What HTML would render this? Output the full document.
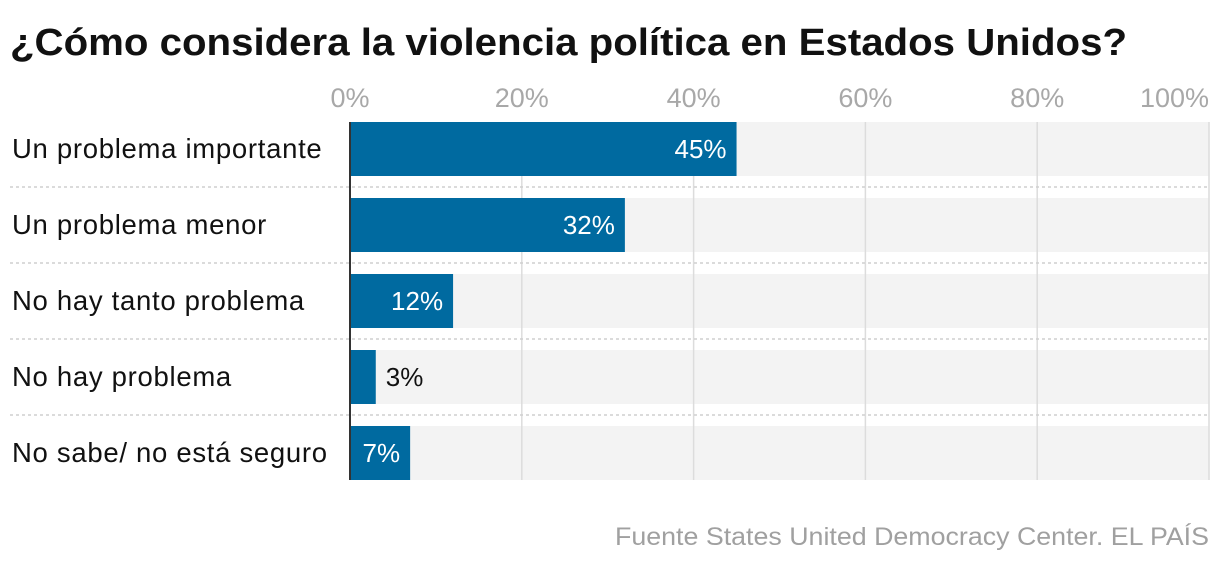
<!DOCTYPE html>
<html><head><meta charset="utf-8"><style>
body{margin:0;background:#fff;width:1220px;height:564px;overflow:hidden;font-family:"Liberation Sans",sans-serif}
</style></head><body>
<svg width="1220" height="564">
<text x="10" y="55" font-size="38" font-weight="bold" fill="#111" textLength="1117" lengthAdjust="spacingAndGlyphs">¿Cómo considera la violencia política en Estados Unidos?</text>
<g id="plot"></g>
<text x="615" y="545" font-size="25" fill="#a0a0a0" textLength="594" lengthAdjust="spacingAndGlyphs">Fuente States United Democracy Center. EL PAÍS</text>
</svg>
<script>
const categories=["Un problema importante","Un problema menor","No hay tanto problema","No hay problema","No sabe/ no está seguro"];
const values=[45,32,12,3,7];
const ticks=[0,20,40,60,80,100];
const tickLabels=["0%","20%","40%","60%","80%","100%"];
const x0=350,x1=1209,top0=122,pitch=76,bh=54;
const xs=v=>x0+(x1-x0)*v/100;
const g=document.getElementById('plot');
const NS="http://www.w3.org/2000/svg";
function mk(t,a){const e=document.createElementNS(NS,t);for(const k in a)e.setAttribute(k,a[k]);g.appendChild(e);return e;}
categories.forEach((c,i)=>{
  const y=top0+i*pitch;
  const bg=mk('rect',{x:x0,y:y,width:x1-x0,height:bh,fill:'#f3f3f3'});
  
  
});
ticks.forEach((t,i)=>{
  if(i>0){const l=mk('line',{x1:xs(t),x2:xs(t),y1:top0,y2:top0+4*pitch+bh,stroke:'#dcdcdc','stroke-width':1.5});
  
  }
  const tx=mk('text',{x:xs(t),y:107,'font-size':27,fill:'#a8a8a8','text-anchor':i==ticks.length-1?'end':'middle'});
  tx.textContent=tickLabels[i];
  
  
});
categories.forEach((c,i)=>{
  const y=top0+i*pitch;
  if(i>0){const d=mk('line',{x1:10,x2:x1,y1:y-11,y2:y-11,stroke:'#cfcfcf','stroke-width':1.5,'stroke-dasharray':'3,3'});
  
  }
  const lb=mk('text',{x:12,y:y+bh/2+9,'font-size':27.5,fill:'#111','letter-spacing':0.7});
  lb.textContent=c;
  
  
  const w=xs(values[i])-x0;
  const b=mk('rect',{x:x0,y:y,width:w,height:bh,fill:'#006aa0'});
  
  
  const inside=w>50;
  const v=mk('text',{x:inside?xs(values[i])-10:xs(values[i])+10,y:y+bh/2+9,'font-size':26,fill:inside?'#fff':'#111','text-anchor':inside?'end':'start'});
  v.textContent=values[i]+'%';
  
  
});
const ax=mk('line',{x1:x0,x2:x0,y1:top0,y2:top0+4*pitch+bh,stroke:'#333','stroke-width':2});


</script>
</body></html>
